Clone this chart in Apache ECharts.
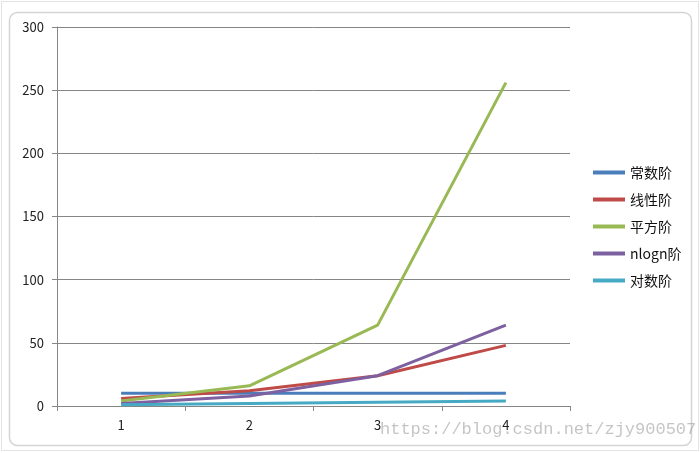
<!DOCTYPE html>
<html><head><meta charset="utf-8">
<script src="https://cdn.jsdelivr.net/npm/echarts@6/dist/echarts.min.js"></script>
<style>html,body{margin:0;padding:0;background:#fff}#c{width:700px;height:453px}</style>
</head><body><div id="c"></div>
<script>
const categories = ['1', '2', '3', '4'];
const constantOrder = [10, 10, 10, 10];
const linearOrder = [6, 12, 24, 48];
const squareOrder = [4, 16, 64, 256];
const nlognOrder = [2, 8, 24, 64];
const logOrder = [1, 2, 3, 4];
const seriesNames = ['常数阶', '线性阶', '平方阶', 'nlogn阶', '对数阶'];
const seriesData = [constantOrder, linearOrder, squareOrder, nlognOrder, logOrder];
const colors = ['#4A7EBB', '#BE4B48', '#98B954', '#7D60A0', '#46AAC5'];
const watermark = 'https://blog.csdn.net/zjy900507';

const chart = echarts.init(document.getElementById('c'), null, {renderer: 'canvas'});
chart.setOption({
  animation: false,
  color: colors,
  textStyle: {fontFamily: '"Noto Sans CJK SC", "DejaVu Sans", sans-serif'},
  graphic: [
    {type: 'rect', shape: {x: 1.5, y: 1.5, width: 697, height: 449}, style: {fill: 'none', stroke: '#e4e4e4', lineWidth: 1}, z: -1},
    {type: 'rect', shape: {x: 9.5, y: 12.5, width: 682, height: 433, r: 8}, style: {fill: 'none', stroke: '#d4d4d4', lineWidth: 1.5}, z: -1},
    {type: 'text', left: 380, top: 421, style: {text: watermark, fill: 'rgba(150,150,150,0.55)', font: '17px "Liberation Mono", monospace'}, z: 10}
  ],
  grid: {left: 57, right: 130, top: 27, bottom: 47},
  legend: {
    orient: 'vertical', left: 588, top: 160,
    icon: 'rect', itemWidth: 32, itemHeight: 4, itemGap: 12,
    textStyle: {fontSize: 14, color: '#111', lineHeight: 15},
    data: seriesNames
  },
  xAxis: {
    type: 'category', data: categories, boundaryGap: true,
    axisLine: {lineStyle: {color: '#868686', width: 1}},
    axisTick: {show: true, length: 5, lineStyle: {color: '#868686'}},
    axisLabel: {color: '#222', fontSize: 13, margin: 13}
  },
  yAxis: {
    type: 'value', min: 0, max: 300, interval: 50,
    axisLine: {show: true, lineStyle: {color: '#868686', width: 1}},
    axisTick: {show: true, length: 5, lineStyle: {color: '#868686'}},
    axisLabel: {color: '#222', fontSize: 13, margin: 13},
    splitLine: {lineStyle: {color: '#868686', width: 1}}
  },
  series: seriesNames.map((n, i) => ({
    name: n, type: 'line', data: seriesData[i],
    symbol: 'none', lineStyle: {width: 3}, z: 2 + i
  }))
});
</script></body></html>
